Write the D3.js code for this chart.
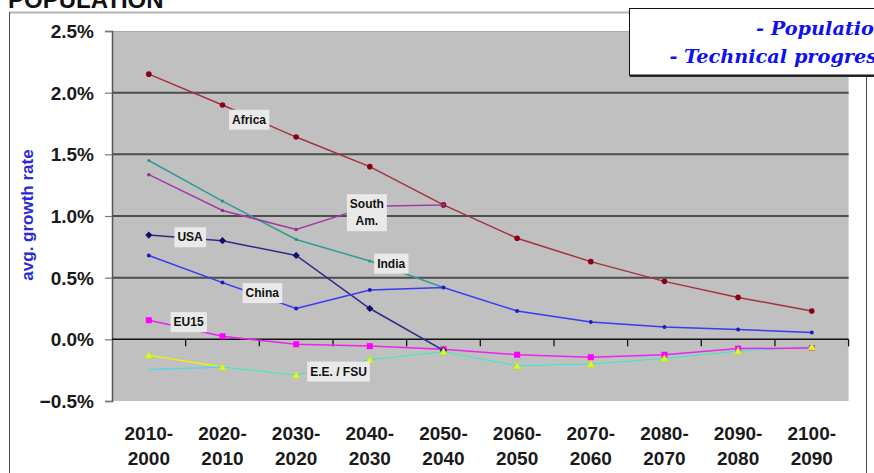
<!DOCTYPE html>
<html>
<head>
<meta charset="utf-8">
<script src="https://cdn.jsdelivr.net/npm/d3@7"></script>
<style>
  html, body { margin: 0; padding: 0; background: #ffffff; }
  svg { display: block; }
</style>
</head>
<body>
<svg id="chart" width="874" height="473"></svg>
<script>
// Decade periods (later year first, as labelled on the axis)
const categories = ["2010-2000", "2020-2010", "2030-2020", "2040-2030", "2050-2040",
                    "2060-2050", "2070-2060", "2080-2070", "2090-2080", "2100-2090"];

// Average annual population growth rate per decade, in %
const africa  = [2.15, 1.90, 1.64, 1.40, 1.09, 0.82, 0.63, 0.47, 0.34, 0.23];
const india   = [1.45, 1.12, 0.81, 0.635, 0.42, null, null, null, null, null];
const southAm = [1.335, 1.045, 0.89, 1.08, 1.09, null, null, null, null, null];
const usa     = [0.845, 0.80, 0.68, 0.25, -0.09, null, null, null, null, null];
const china   = [0.68, 0.46, 0.25, 0.40, 0.42, 0.23, 0.14, 0.10, 0.08, 0.055];
const eu15    = [0.155, 0.025, -0.04, -0.055, -0.08, -0.125, -0.145, -0.125, -0.075, -0.07];
const ee      = [-0.13, -0.225, -0.29, -0.165, -0.10, -0.215, -0.20, -0.155, -0.095, -0.062];
const fsu     = [-0.245, -0.225, -0.29, -0.165, -0.10, -0.215, -0.20, -0.155, -0.095, -0.062];

const yTicks = [-0.5, 0, 0.5, 1.0, 1.5, 2.0, 2.5];
const gridValues = [0.5, 1.0, 1.5, 2.0];

// Series drawing order and styling
const series = [
  { name: "E.E.",      values: ee,      stroke: "#f2f200", marker: null },
  { name: "FSU",       values: fsu,     stroke: "#55d6ea", marker: null },
  { name: "Africa",    values: africa,  stroke: "#a3323f", marker: "circle",  fill: "#8a0014", size: 2.8 },
  { name: "India",     values: india,   stroke: "#2f9c94", marker: "circle",  fill: "#2f8f88", size: 1.6 },
  { name: "South Am.", values: southAm, stroke: "#a23aa6", marker: "circle",  fill: "#90308f", size: 1.8 },
  { name: "EU15",      values: eu15,    stroke: "#ee22ee", marker: "square",  fill: "#ff00ff", size: 3 },
  { name: "USA",       values: usa,     stroke: "#2a2a8a", marker: "diamond", fill: "#10106e", size: 3.6 },
  { name: "China",     values: china,   stroke: "#3a3af0", marker: "circle",  fill: "#1c1cc0", size: 2 }
];
// E.E. triangles sit on top of the cyan FSU line
const eeMarkers = { values: ee, fill: "#d9f53a", stroke: "#b8d820" };

// Region labels anchored in data coordinates (category index, % value)
const regionLabels = [
  { lines: ["Africa"],          at: 1.36,  v: 1.783 },
  { lines: ["South", "Am."],    at: 2.96,  v: 1.029 },
  { lines: ["USA"],             at: 0.56,  v: 0.83 },
  { lines: ["India"],           at: 3.29,  v: 0.616 },
  { lines: ["China"],           at: 1.54,  v: 0.377 },
  { lines: ["EU15"],            at: 0.54,  v: 0.142 },
  { lines: ["E.E. / FSU"],      at: 2.575, v: -0.259 }
];

const svg = d3.select("#chart");
const sans = "'Liberation Sans', Arial, sans-serif";
const serif = "'DejaVu Serif', 'Liberation Serif', serif";

const plot = { left: 112, right: 848.6, top: 31, bottom: 401 };

const x = d3.scaleBand().domain(categories).range([plot.left, plot.right]).padding(0);
const y = d3.scaleLinear().domain([-0.5, 2.5]).range([plot.bottom, plot.top]);
const cx = d => x(categories[d]) + x.bandwidth() / 2;
const xAt = f => plot.left + x.step() * (f + 0.5);

// Page heading, running off the top edge
svg.append("text")
  .attr("x", 8).attr("y", 8)
  .attr("font-family", sans).attr("font-weight", "bold").attr("font-size", 24)
  .attr("fill", "#111")
  .text("POPULATION");

// Chart frame
svg.append("line").attr("x1", 9).attr("x2", 866).attr("y1", 12.5).attr("y2", 12.5)
  .attr("stroke", "#b4b4b4").attr("stroke-width", 2);
svg.append("line").attr("x1", 9.5).attr("x2", 9.5).attr("y1", 12).attr("y2", 473)
  .attr("stroke", "#4a4a4a").attr("stroke-width", 1);
svg.append("line").attr("x1", 866.5).attr("x2", 866.5).attr("y1", 12).attr("y2", 473)
  .attr("stroke", "#4a4a4a").attr("stroke-width", 1);

// Plot area
svg.append("rect")
  .attr("x", plot.left).attr("y", plot.top)
  .attr("width", plot.right - plot.left).attr("height", plot.bottom - plot.top)
  .attr("fill", "#c0c0c0");
svg.append("line").attr("x1", plot.left).attr("x2", plot.right)
  .attr("y1", plot.top + 0.5).attr("y2", plot.top + 0.5)
  .attr("stroke", "#a8a8a8").attr("stroke-width", 1);

// Horizontal gridlines
svg.append("g").selectAll("line").data(gridValues).join("line")
  .attr("x1", plot.left).attr("x2", plot.right)
  .attr("y1", d => y(d)).attr("y2", d => y(d))
  .attr("stroke", "#4d4d4d").attr("stroke-width", 2);

// Y axis
const yAxis = d3.axisLeft(y).tickValues(yTicks).tickSize(7)
  .tickFormat(d => d3.format(".1f")(d) + "%");
const gy = svg.append("g").attr("transform", `translate(${plot.left},0)`).call(yAxis);
gy.select(".domain").attr("stroke", "#555").attr("stroke-width", 1.5);
gy.selectAll(".tick line").attr("stroke", "#777").attr("stroke-width", 1.2);
gy.selectAll(".tick text")
  .attr("x", -18).attr("dy", "0.35em")
  .attr("font-family", sans).attr("font-weight", "bold").attr("font-size", 19)
  .attr("fill", "#1a1a1a");

// Zero line with ticks between categories
const boundaries = categories.map(c => x(c) + x.bandwidth());
svg.append("line").attr("x1", plot.left).attr("x2", plot.right)
  .attr("y1", y(0)).attr("y2", y(0))
  .attr("stroke", "#111").attr("stroke-width", 1.5);
svg.append("g").selectAll("line").data(boundaries).join("line")
  .attr("x1", d => d).attr("x2", d => d)
  .attr("y1", y(0)).attr("y2", y(0) + 7)
  .attr("stroke", "#111").attr("stroke-width", 1.3);

// Category labels (two lines each)
const xl = svg.append("g").selectAll("text").data(categories).join("text")
  .attr("x", d => x(d) + x.bandwidth() / 2)
  .attr("text-anchor", "middle")
  .attr("font-family", sans).attr("font-weight", "bold").attr("font-size", 19)
  .attr("fill", "#1a1a1a");
xl.append("tspan").attr("x", d => x(d) + x.bandwidth() / 2).attr("y", 440)
  .text(d => d.split("-")[0] + "-");
xl.append("tspan").attr("x", d => x(d) + x.bandwidth() / 2).attr("y", 465)
  .text(d => d.split("-")[1]);

// Y axis title
svg.append("text")
  .attr("transform", "translate(33,215) rotate(-90)")
  .attr("text-anchor", "middle")
  .attr("font-family", sans).attr("font-weight", "bold").attr("font-size", 17)
  .attr("fill", "#2b2bd6")
  .text("avg. growth rate");

// Lines and markers
const lineGen = d3.line()
  .defined(d => d != null)
  .x((d, i) => cx(i))
  .y(d => y(d));

const lines = svg.append("g");
series.forEach(s => {
  lines.append("path")
    .datum(s.values)
    .attr("fill", "none")
    .attr("stroke", s.stroke)
    .attr("stroke-width", 1.5)
    .attr("d", lineGen);
  if (!s.marker) return;
  const pts = s.values.map((v, i) => ({ v, i })).filter(p => p.v != null);
  const g = lines.append("g").attr("fill", s.fill);
  if (s.marker === "circle") {
    g.selectAll("circle").data(pts).join("circle")
      .attr("cx", p => cx(p.i)).attr("cy", p => y(p.v)).attr("r", s.size);
  } else if (s.marker === "square") {
    g.selectAll("rect").data(pts).join("rect")
      .attr("x", p => cx(p.i) - s.size).attr("y", p => y(p.v) - s.size)
      .attr("width", s.size * 2).attr("height", s.size * 2);
  } else if (s.marker === "diamond") {
    g.selectAll("path").data(pts).join("path")
      .attr("d", p => {
        const X = cx(p.i), Y = y(p.v), r = s.size;
        return `M${X},${Y - r}L${X + r},${Y}L${X},${Y + r}L${X - r},${Y}Z`;
      });
  }
});

// Triangle markers for E.E.
lines.append("g").selectAll("path")
  .data(eeMarkers.values.map((v, i) => ({ v, i })))
  .join("path")
  .attr("d", p => {
    const X = cx(p.i), Y = y(p.v), r = 4;
    return `M${X},${Y - r}L${X + r},${Y + r * 0.8}L${X - r},${Y + r * 0.8}Z`;
  })
  .attr("fill", eeMarkers.fill).attr("stroke", eeMarkers.stroke).attr("stroke-width", 0.6);

// Region labels with light boxes
const lab = svg.append("g");
regionLabels.forEach(l => {
  const X = xAt(l.at), Y = y(l.v);
  const g = lab.append("g");
  const lh = 17;
  const t = g.append("text")
    .attr("text-anchor", "middle")
    .attr("font-family", sans).attr("font-weight", "bold").attr("font-size", 12)
    .attr("fill", "#111");
  l.lines.forEach((s, k) => {
    t.append("tspan").attr("x", X)
      .attr("y", Y + 4.3 + (k - (l.lines.length - 1) / 2) * lh)
      .text(s);
  });
  const bb = t.node().getBBox();
  g.insert("rect", "text")
    .attr("x", bb.x - 3).attr("y", bb.y - 3)
    .attr("width", bb.width + 6).attr("height", bb.height + 6)
    .attr("fill", "#e9e9e9");
});

// Scenario box in the top-right corner
svg.append("rect").attr("x", 629.5).attr("y", 10).attr("width", 300).attr("height", 67)
  .attr("fill", "#2a2a2a");
svg.append("rect").attr("x", 629.5).attr("y", 8.5).attr("width", 300).attr("height", 66.5)
  .attr("fill", "#ffffff").attr("stroke", "#111").attr("stroke-width", 1);
const box = svg.append("text")
  .attr("text-anchor", "end")
  .attr("font-family", serif).attr("font-style", "italic").attr("font-weight", "bold")
  .attr("font-size", 19.3).attr("fill", "#1010f0");
box.append("tspan").attr("x", 888).attr("y", 35).text("- Population");
box.append("tspan").attr("x", 888).attr("y", 63).text("- Technical progress");
</script>
</body>
</html>
